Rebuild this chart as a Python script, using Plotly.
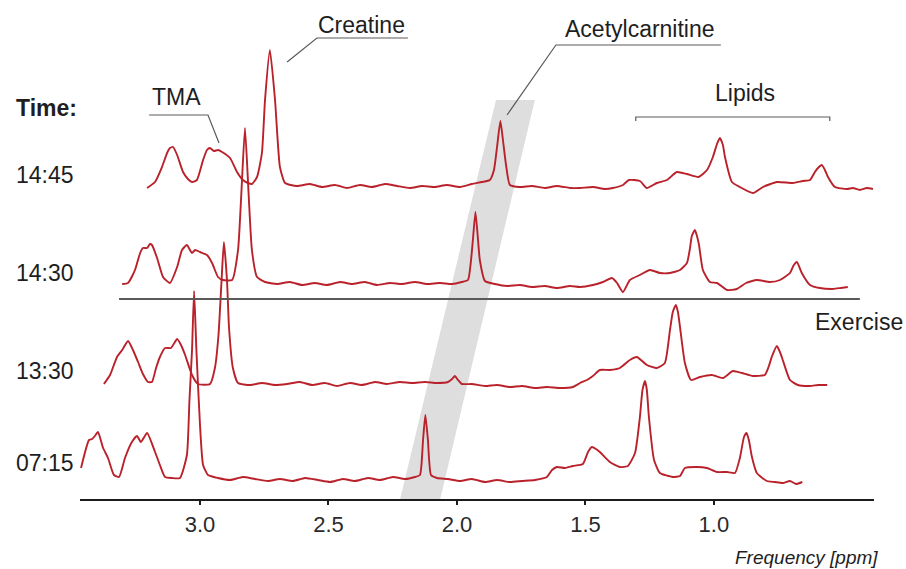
import plotly.graph_objects as go

# ---------------- data ----------------
times = ["07:15", "13:30", "14:30", "14:45"]
baseline_offsets = [0.19, 1.15, 2.16, 3.13]  # vertical stacking offset (a.u.)

ppm_0715 = [3.463, 3.432, 3.420, 3.409, 3.397, 3.377, 3.358, 3.335, 3.315, 3.292, 3.265, 3.245, 3.230, 3.206,
            3.175, 3.156, 3.136, 3.109, 3.078, 3.051, 3.041, 3.031, 3.023, 3.014, 3.000, 2.988, 2.969, 2.930,
            2.883, 2.833, 2.786, 2.735, 2.689, 2.638, 2.591, 2.541, 2.494, 2.444, 2.397, 2.346, 2.300, 2.249,
            2.202, 2.163, 2.144, 2.132, 2.123, 2.113, 2.101, 2.078, 2.035, 1.988, 1.942, 1.891, 1.844, 1.794,
            1.747, 1.696, 1.650, 1.630, 1.611, 1.580, 1.549, 1.510, 1.490, 1.475, 1.459, 1.444, 1.405, 1.366,
            1.335, 1.307, 1.288, 1.278, 1.268, 1.261, 1.253, 1.233, 1.210, 1.160, 1.132, 1.113, 1.066, 1.027,
            0.988, 0.949, 0.918, 0.899, 0.883, 0.873, 0.864, 0.852, 0.833, 0.794, 0.763, 0.732, 0.704, 0.680,
            0.656]
int_0715 = [0.12, 0.40, 0.41, 0.44, 0.48, 0.32, 0.22, 0.05, 0.03, 0.22, 0.38, 0.44, 0.38, 0.47,
            0.28, 0.15, 0.03, 0.02, 0.02, 0.25, 0.80, 1.30, 1.89, 1.30, 0.55, 0.15, 0.05, 0.02,
            0.00, 0.03, 0.01, -0.01, 0.01, -0.01, 0.02, 0.00, -0.02, 0.01, -0.01, 0.02, 0.00, 0.03,
            0.01, 0.03, 0.05, 0.40, 0.65, 0.40, 0.05, 0.02, 0.01, -0.01, 0.01, -0.02, 0.00, -0.02,
            -0.01, 0.00, 0.03, 0.10, 0.13, 0.12, 0.14, 0.16, 0.28, 0.33, 0.31, 0.28, 0.18, 0.13,
            0.14, 0.27, 0.63, 0.90, 0.99, 0.90, 0.63, 0.20, 0.07, 0.03, 0.04, 0.12, 0.13, 0.12,
            0.08, 0.08, 0.07, 0.22, 0.43, 0.47, 0.40, 0.23, 0.07, -0.01, -0.02, -0.03, -0.01, -0.04,
            -0.02]

ppm_1330 = [3.374, 3.350, 3.323, 3.303, 3.280, 3.261, 3.241, 3.222, 3.202, 3.187, 3.171, 3.156, 3.136, 3.113,
            3.089, 3.074, 3.058, 3.031, 3.008, 2.961, 2.942, 2.928, 2.916, 2.907, 2.895, 2.887, 2.872, 2.852,
            2.805, 2.759, 2.708, 2.661, 2.611, 2.564, 2.514, 2.467, 2.416, 2.370, 2.319, 2.272, 2.222, 2.175,
            2.125, 2.078, 2.035, 2.019, 2.008, 1.996, 1.981, 1.942, 1.891, 1.844, 1.794, 1.747, 1.696, 1.650,
            1.599, 1.549, 1.521, 1.494, 1.471, 1.444, 1.405, 1.366, 1.327, 1.300, 1.261, 1.222, 1.191, 1.171,
            1.160, 1.148, 1.140, 1.132, 1.113, 1.089, 1.054, 1.008, 0.965, 0.926, 0.891, 0.848, 0.802, 0.786,
            0.775, 0.755, 0.743, 0.732, 0.704, 0.673, 0.626, 0.595, 0.559]
int_1330 = [0.00, 0.09, 0.27, 0.34, 0.43, 0.34, 0.22, 0.10, 0.02, 0.02, 0.16, 0.27, 0.36, 0.36,
            0.45, 0.39, 0.29, 0.09, 0.00, 0.00, 0.16, 0.49, 1.04, 1.42, 1.04, 0.56, 0.16, 0.01,
            -0.01, 0.01, -0.01, 0.00, 0.02, -0.01, 0.01, -0.02, 0.01, -0.01, 0.02, 0.00, 0.02, 0.01,
            0.02, 0.01, 0.02, 0.05, 0.08, 0.04, 0.00, 0.00, -0.02, -0.01, -0.03, -0.02, -0.04, -0.03,
            -0.04, -0.03, 0.01, 0.04, 0.08, 0.14, 0.14, 0.16, 0.24, 0.27, 0.19, 0.16, 0.21, 0.54,
            0.72, 0.79, 0.72, 0.57, 0.21, 0.04, 0.07, 0.09, 0.06, 0.13, 0.11, 0.08, 0.09, 0.18,
            0.27, 0.38, 0.32, 0.24, 0.04, -0.01, -0.02, -0.01, -0.01]

ppm_1430 = [3.303, 3.280, 3.253, 3.233, 3.222, 3.206, 3.195, 3.187, 3.167, 3.144, 3.117, 3.089, 3.070, 3.051,
            3.039, 3.031, 3.019, 3.000, 2.973, 2.953, 2.930, 2.911, 2.875, 2.852, 2.839, 2.825, 2.811, 2.798,
            2.778, 2.747, 2.700, 2.650, 2.603, 2.553, 2.506, 2.455, 2.409, 2.358, 2.311, 2.261, 2.214, 2.163,
            2.117, 2.066, 2.019, 1.981, 1.957, 1.946, 1.938, 1.928, 1.918, 1.911, 1.891, 1.852, 1.805, 1.755,
            1.708, 1.658, 1.611, 1.560, 1.521, 1.471, 1.432, 1.397, 1.377, 1.354, 1.327, 1.288, 1.249, 1.210,
            1.171, 1.132, 1.105, 1.093, 1.086, 1.074, 1.066, 1.058, 1.043, 1.016, 0.988, 0.949, 0.911, 0.875,
            0.833, 0.782, 0.743, 0.704, 0.689, 0.677, 0.658, 0.626, 0.588, 0.537, 0.506, 0.479]
int_1430 = [-0.01, 0.00, 0.13, 0.30, 0.35, 0.35, 0.39, 0.38, 0.25, 0.06, 0.00, 0.16, 0.33, 0.38,
            0.33, 0.30, 0.33, 0.31, 0.28, 0.20, 0.06, 0.03, 0.03, 0.33, 0.90, 1.55, 0.90, 0.33,
            0.06, 0.01, -0.01, 0.01, -0.02, 0.00, -0.02, 0.01, -0.01, 0.01, -0.02, 0.00, -0.01, 0.01,
            -0.01, 0.00, -0.01, 0.01, 0.03, 0.21, 0.43, 0.71, 0.43, 0.23, 0.02, -0.01, -0.03, -0.02,
            -0.04, -0.03, -0.05, -0.03, -0.04, -0.02, 0.01, 0.05, 0.00, -0.09, 0.03, 0.08, 0.13, 0.10,
            0.10, 0.13, 0.20, 0.35, 0.47, 0.53, 0.47, 0.38, 0.13, 0.01, 0.00, -0.07, -0.06, 0.00,
            0.03, 0.01, 0.03, 0.10, 0.18, 0.21, 0.10, -0.02, -0.05, -0.06, -0.05, -0.04]

ppm_1445 = [3.206, 3.175, 3.148, 3.128, 3.117, 3.105, 3.089, 3.066, 3.047, 3.031, 3.012, 2.988, 2.973, 2.961,
            2.946, 2.930, 2.914, 2.883, 2.856, 2.833, 2.813, 2.798, 2.778, 2.759, 2.747, 2.728, 2.708, 2.689,
            2.669, 2.623, 2.572, 2.525, 2.475, 2.428, 2.377, 2.331, 2.280, 2.233, 2.183, 2.136, 2.086, 2.039,
            1.988, 1.942, 1.903, 1.872, 1.856, 1.844, 1.831, 1.821, 1.809, 1.794, 1.755, 1.708, 1.658, 1.611,
            1.560, 1.521, 1.471, 1.424, 1.393, 1.354, 1.331, 1.288, 1.261, 1.222, 1.183, 1.144, 1.105, 1.060,
            1.027, 1.004, 0.988, 0.977, 0.965, 0.957, 0.930, 0.899, 0.848, 0.809, 0.755, 0.693, 0.654, 0.626,
            0.607, 0.595, 0.580, 0.568, 0.556, 0.529, 0.482, 0.459, 0.432, 0.405, 0.381]
int_1445 = [-0.02, 0.04, 0.19, 0.33, 0.38, 0.39, 0.31, 0.14, 0.07, 0.04, 0.06, 0.26, 0.36, 0.38,
            0.35, 0.36, 0.34, 0.28, 0.14, 0.06, 0.03, 0.02, 0.09, 0.33, 0.86, 1.36, 0.86, 0.19,
            0.03, 0.00, 0.02, -0.01, 0.01, -0.02, 0.01, -0.01, 0.02, 0.00, -0.02, 0.00, -0.01, 0.01,
            -0.01, 0.02, 0.04, 0.06, 0.16, 0.39, 0.65, 0.46, 0.21, 0.01, -0.01, 0.00, -0.02, 0.00,
            -0.02, -0.02, -0.01, -0.03, -0.02, 0.01, 0.06, 0.05, -0.02, 0.03, 0.06, 0.14, 0.12, 0.09,
            0.16, 0.29, 0.42, 0.48, 0.41, 0.29, 0.04, -0.01, -0.07, -0.01, 0.04, 0.03, 0.05, 0.06,
            0.14, 0.18, 0.21, 0.16, 0.09, -0.01, -0.03, -0.02, -0.04, -0.02, -0.03]

spectra_ppm = [ppm_0715, ppm_1330, ppm_1430, ppm_1445]
spectra_int = [int_0715, int_1330, int_1430, int_1445]

tick_vals = [3.0, 2.5, 2.0, 1.5, 1.0]
tick_text = ["3.0", "2.5", "2.0", "1.5", "1.0"]
x_title = "Frequency [ppm]"

# ---------------- figure ----------------
FONT = "Liberation Sans, Arial, Helvetica, sans-serif"
RED = "#b9212b"
GREY = "#5a5a5a"
TXT = "#1e1e1e"

fig = go.Figure()

for ppm, inten, off, t in zip(spectra_ppm, spectra_int, baseline_offsets, times):
    fig.add_trace(go.Scatter(
        x=ppm, y=[v + off for v in inten], mode="lines", name=t,
        line=dict(color=RED, width=1.9, shape="spline", smoothing=0.5),
        hoverinfo="skip", showlegend=False))

shapes = []
# grey band (acetylcarnitine drift)
shapes.append(dict(type="path", xref="x", yref="y", layer="below",
                   path="M 2.222,-0.01 L 2.066,-0.01 L 1.697,3.99 L 1.848,3.99 Z",
                   fillcolor="#dededf", line=dict(width=0)))
# exercise line
shapes.append(dict(type="line", xref="x", yref="y", x0=3.315, x1=0.432, y0=2.00, y1=2.00,
                   line=dict(color=GREY, width=2)))
# leader lines
lead = dict(color=GREY, width=1.2)
shapes.append(dict(type="path", xref="x", yref="y",
                   path="M 2.661,4.37 L 2.545,4.61 L 2.191,4.61", line=lead))
shapes.append(dict(type="path", xref="x", yref="y",
                   path="M 2.926,3.56 L 2.969,3.84 L 3.198,3.84", line=lead))
shapes.append(dict(type="path", xref="x", yref="y",
                   path="M 1.805,3.84 L 1.615,4.54 L 0.973,4.54", line=lead))
shapes.append(dict(type="path", xref="x", yref="y",
                   path="M 1.304,3.78 L 1.304,3.82 L 0.549,3.82 L 0.549,3.78", line=lead))

annotations = []
def add_text(text, x, y, xref="x", yref="y", xanchor="center", size=23, bold=False, italic=False, color=TXT):
    t = text
    if bold:
        t = "<b>" + t + "</b>"
    if italic:
        t = "<i>" + t + "</i>"
    annotations.append(dict(text=t, x=x, y=y, xref=xref, yref=yref, xanchor=xanchor, yanchor="middle",
                            showarrow=False, font=dict(family=FONT, size=size, color=color)))

add_text("Creatine", 2.370, 4.74)
add_text("TMA", 3.093, 4.02)
add_text("Acetylcarnitine", 1.288, 4.70)
add_text("Lipids", 0.879, 4.06)
add_text("Exercise", 1.039, 1.77, xref="paper", xanchor="right")
add_text("Time:", -0.083, 3.91, xref="paper", xanchor="left", bold=True)
label_y = [0.36, 1.28, 2.26, 3.24]
for t, yy in zip(times, label_y):
    add_text(t, -0.083, yy, xref="paper", xanchor="left")
add_text(x_title, 1.008, -0.118, xref="paper", yref="paper", xanchor="right", size=19, italic=True)

fig.update_layout(
    width=906, height=569,
    margin=dict(l=80, r=32, t=0, b=70),
    paper_bgcolor="white", plot_bgcolor="white",
    shapes=shapes, annotations=annotations,
    xaxis=dict(range=[3.467, 0.377], showgrid=False, zeroline=False,
               showline=True, linecolor="#1c1c1c", linewidth=2.2,
               ticks="outside", ticklen=4, tickwidth=1.5, tickcolor="#1c1c1c",
               tickvals=tick_vals, ticktext=tick_text, ticklabelstandoff=0,
               tickfont=dict(family=FONT, size=22, color="#2a2a2a")),
    yaxis=dict(range=[0, 4.99], visible=False, showgrid=False, zeroline=False),
)

# remove the browser's default 8px body margin so the 906x569 figure fills the window
fig.write_html("out.html", config={"displayModeBar": False},
               post_script="document.body.style.margin='0';document.body.style.overflow='hidden';")
